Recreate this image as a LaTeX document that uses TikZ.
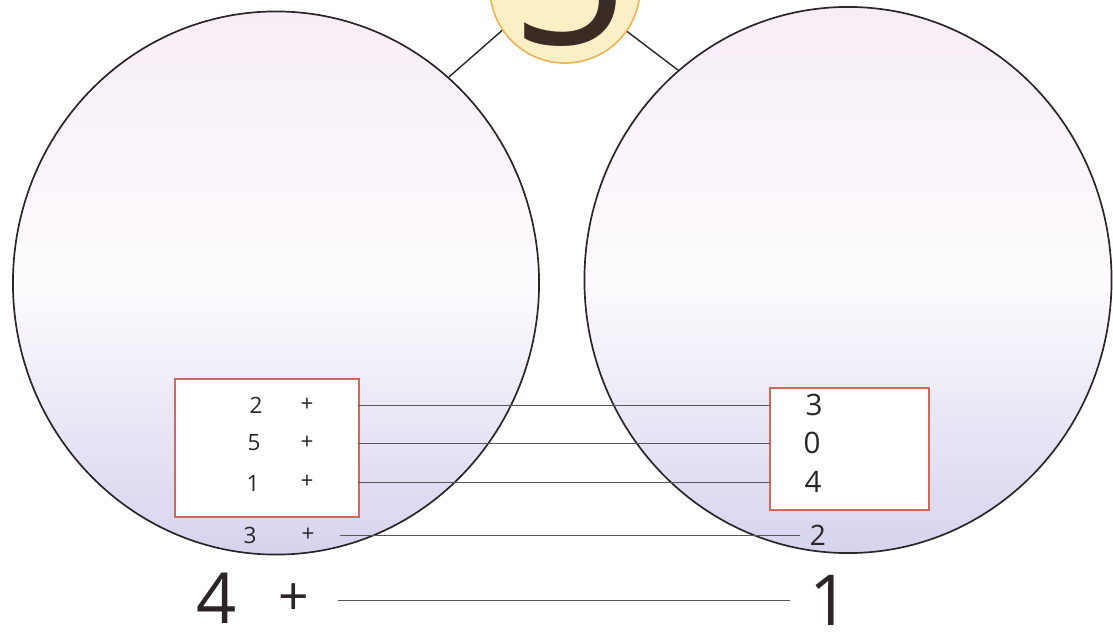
\documentclass[tikz,border=0pt]{standalone}
\usepackage{fontspec}
\setmainfont{Open Sans}
\usetikzlibrary{shapes.geometric}
\definecolor{bndink}{HTML}{2B2528}
\definecolor{bndpink}{HTML}{F7EDF7}
\definecolor{bndmid}{HTML}{FDFBFD}
\definecolor{bndlav}{HTML}{D6D3EE}
\definecolor{bndred}{HTML}{CF6A5A}
\definecolor{bndsun}{HTML}{FBEFC6}
\definecolor{bndorange}{HTML}{EDB55A}
\definecolor{bndbrown}{HTML}{3A2C24}
\definecolor{bndpencil}{HTML}{5A5558}
\tikzset{
  setc/.style ={ellipse, draw=bndink, line width=1.2pt, inner sep=0pt,
                top color=bndpink, bottom color=bndlav, middle color=bndmid},
  topc/.style ={circle, draw=bndorange, line width=1.2pt, fill=bndsun,
                minimum size=3.75cm, inner sep=0pt},
  card/.style ={rectangle, draw=bndred, line width=0.8pt, fill=white, inner sep=0pt},
  dig/.style  ={inner sep=1pt, text=bndink, font=\fontsize{16}{16}\selectfont},
  digr/.style ={dig, font=\fontsize{21}{21}\selectfont},
  digb/.style ={dig, font=\fontsize{50}{50}\selectfont},
  plusb/.style={dig, font=\fontsize{38}{38}\selectfont},
  bond/.style ={draw=bndink, line width=1pt},
  pair/.style ={draw=bndpencil, line width=0.7pt}
}

\begin{document}
\begin{tikzpicture}[x=0.025cm, y=-0.025cm]
  \useasboundingbox (0,0) rectangle (1113,641);
  \clip (0,0) rectangle (1113,641);
  % the two parts and the whole
  \node[setc, minimum width=13.15cm, minimum height=13.575cm] (lset) at (276,283) {};
  \node[setc, minimum width=13.175cm, minimum height=13.65cm] (rset) at (848,280) {};
  \node[topc] (whole) at (565,-12) {};
  \node[anchor=south, inner sep=0pt, text=bndbrown,
        font=\fontsize{145}{145}\selectfont] (wnum) at (570,47) {5};
  \draw[bond] (whole.214) -- (lset.50);
  \draw[bond] (whole.325) -- (rset.129);
  % cards
  \node[card, minimum width=4.6cm, minimum height=3.45cm] (lcard) at (267,448) {};
  \node[card, minimum width=3.975cm, minimum height=3.05cm] (rcard) at (849.5,449) {};
  % pairs inside the cards
  \node[dig] (a1) at (256,405) {2};
  \node[dig] (p1) at (307,405) {+};
  \node[digr] (b1) at (814,405) {3};
  \draw[pair, shorten <=1.08cm, shorten >=0.85cm] (p1) -- (b1);
  \node[dig] (a2) at (254,443) {5};
  \node[dig] (p2) at (307,443) {+};
  \node[digr] (b2) at (812,443) {0};
  \draw[pair, shorten <=1.08cm, shorten >=0.8cm] (p2) -- (b2);
  \node[dig] (a3) at (253,483) {1};
  \node[dig] (p3) at (307,482) {+};
  \node[digr] (b3) at (813,482) {4};
  \draw[pair, shorten <=1.08cm, shorten >=0.83cm] (p3) -- (b3);
  % pairs below
  \node[dig] (a4) at (250,535) {3};
  \node[dig] (p4) at (308,535) {+};
  \node[dig, font=\fontsize{20}{20}\selectfont] (b4) at (818,535) {2};
  \draw[pair, shorten <=0.6cm, shorten >=0.21cm] (p4) -- (b4);
  \node[digb] (a5) at (217,598) {4};
  \node[plusb] (p5) at (294,600) {+};
  \node[digb] (b5) at (830,600) {1};
  \draw[pair, shorten <=0.68cm, shorten >=0.46cm] (p5) -- (b5);
\end{tikzpicture}
\end{document}
